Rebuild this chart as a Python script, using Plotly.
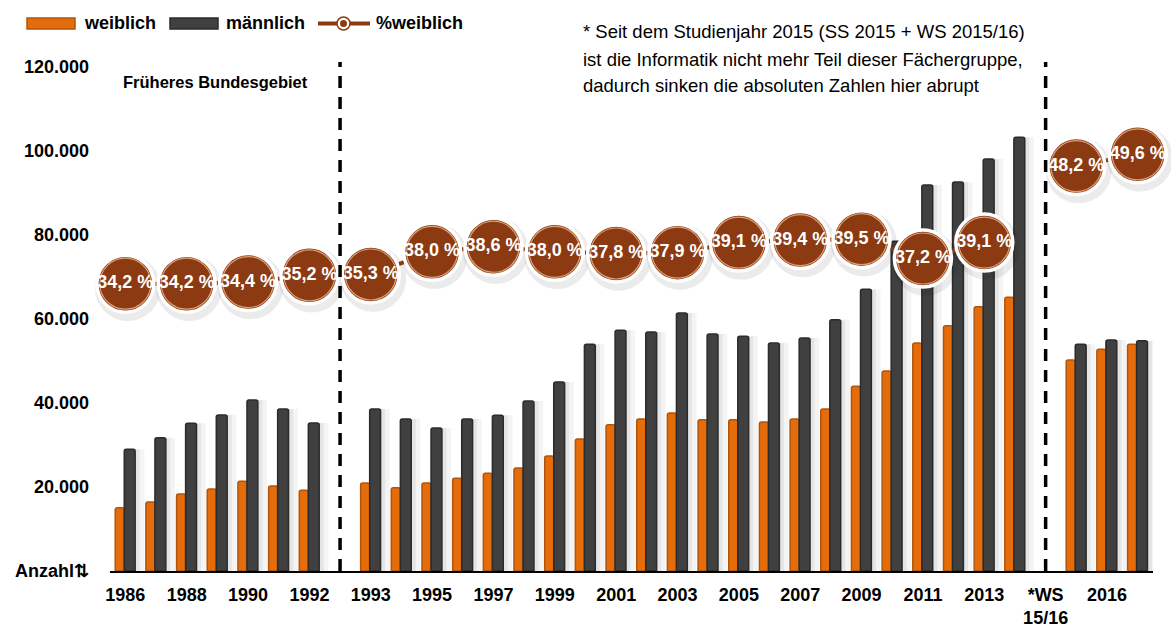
import plotly.graph_objects as go

# ---------------- data ----------------
categories = ["1986", "1987", "1988", "1989", "1990", "1991", "1992", "",
              "1993", "1994", "1995", "1996", "1997", "1998", "1999", "2000",
              "2001", "2002", "2003", "2004", "2005", "2006", "2007", "2008",
              "2009", "2010", "2011", "2012", "2013", "2014", "",
              "WS 15/16", "2016", "2017"]

weiblich = [15070, 16430, 18330, 19520, 21350, 20240, 19210, None,
            20950, 19800, 20950, 22100, 23300, 24500, 27400, 31400,
            34800, 36200, 37600, 36000, 36000, 35500, 36200, 38600,
            44000, 47600, 54300, 58400, 62900, 65200, None,
            50240, 52780, 53970]

maennlich = [28970, 31750, 35160, 37140, 40700, 38570, 35240, None,
             38570, 36200, 34050, 36200, 37100, 40500, 45000, 54000,
             57300, 56900, 61400, 56400, 55900, 54300, 55500, 59800,
             67100, 78500, 91900, 92600, 98100, 103300, None,
             53970, 55000, 54840]

pct_weiblich = [34.2, None, 34.2, None, 34.4, None, 35.2, None,
                35.3, None, 38.0, None, 38.6, None, 38.0, None,
                37.8, None, 37.9, None, 39.1, None, 39.4, None,
                39.5, None, 37.2, None, 39.1, None, None,
                48.2, None, 49.6]

tick_positions = [0, 2, 4, 6, 8, 10, 12, 14, 16, 18, 20, 22, 24, 26, 28, 30, 32]
tick_labels = ["1986", "1988", "1990", "1992", "1993", "1995", "1997", "1999",
               "2001", "2003", "2005", "2007", "2009", "2011", "2013",
               "*WS<br>15/16", "2016"]

y_tickvals = [0, 20000, 40000, 60000, 80000, 100000, 120000]
y_ticktext = ["Anzahl⇅", "20.000", "40.000", "60.000", "80.000", "100.000", "120.000"]

divider_positions = [7, 30]

legend_names = ["weiblich", "männlich", "%weiblich"]
note_lines = ["* Seit dem Studienjahr 2015 (SS 2015 + WS 2015/16)",
              "ist die Informatik nicht mehr Teil dieser Fächergruppe,",
              "dadurch sinken die absoluten Zahlen hier abrupt"]
region_text = "Früheres Bundesgebiet"

# ---------------- style ----------------
FONT = "'Liberation Sans', Arial, sans-serif"
ORANGE = "#E46C0A"
ORANGE_EDGE = "#B0550C"
DARK = "#404040"
DARK_EDGE = "#2B2B2B"
BROWN = "#8B3A12"

W, H = 1171, 630
ML, MR, MT, MB = 110, 18, 67, 59
PW, PH = W - ML - MR, H - MT - MB


def px_x(px):
    return (px - ML) / PW


def px_y(py):
    return (H - MB - py) / PH


xs = list(range(len(categories)))

fig = go.Figure()

# soft shadows right of dark bars
fig.add_trace(go.Bar(x=xs, y=maennlich, offset=0.32, width=0.30,
                     marker=dict(color="rgba(0,0,0,0.045)", line=dict(width=0)),
                     hoverinfo="skip", showlegend=False))
fig.add_trace(go.Bar(x=xs, y=maennlich, offset=0.32, width=0.15,
                     marker=dict(color="rgba(0,0,0,0.06)", line=dict(width=0)),
                     hoverinfo="skip", showlegend=False))

fig.add_trace(go.Bar(x=xs, y=weiblich, name=legend_names[0], offset=-0.33, width=0.295,
                     marker=dict(color=ORANGE, line=dict(color=ORANGE_EDGE, width=1.5),
                                 cornerradius=2),
                     showlegend=False))
fig.add_trace(go.Bar(x=xs, y=maennlich, name=legend_names[1], offset=-0.035, width=0.355,
                     marker=dict(color=DARK, line=dict(color=DARK_EDGE, width=1.5),
                                 cornerradius=2),
                     showlegend=False))

# percentage line with big circles
px_list, py_list = [], []
prev = None
for i, v in enumerate(pct_weiblich):
    if v is None:
        continue
    if prev is not None and i - prev > 2:
        px_list.append(None)
        py_list.append(None)
    px_list.append(i)
    py_list.append(v)
    prev = i

pts_x = [x for x in px_list if x is not None]
pts_y = [y for y in py_list if y is not None]
labels = [("%.1f %%" % v).replace(".", ",") for v in pts_y]

fig.add_trace(go.Scatter(x=[x + 0.08 for x in pts_x], y=[y - 0.5 for y in pts_y],
                         yaxis="y2", mode="markers", cliponaxis=False,
                         marker=dict(size=66, color="rgba(0,0,0,0.08)", line=dict(width=0)),
                         hoverinfo="skip", showlegend=False))
fig.add_trace(go.Scatter(x=px_list, y=py_list, yaxis="y2", mode="lines+markers",
                         name=legend_names[2], cliponaxis=False,
                         line=dict(color=BROWN, width=4),
                         marker=dict(size=57, color=BROWN, line=dict(color="white", width=3.5)),
                         showlegend=False))
fig.add_trace(go.Scatter(x=pts_x, y=pts_y, yaxis="y2", mode="markers", cliponaxis=False,
                         marker=dict(size=51, color="rgba(0,0,0,0)",
                                     line=dict(color="rgba(232,170,130,0.9)", width=1.2)),
                         hoverinfo="skip", showlegend=False))
fig.add_trace(go.Scatter(x=pts_x, y=pts_y, yaxis="y2", mode="text", cliponaxis=False,
                         text=["<b>%s</b>" % t for t in labels],
                         textposition="middle center",
                         textfont=dict(family=FONT, size=18, color="white"),
                         hoverinfo="skip", showlegend=False))

shapes = []
for d in divider_positions:
    shapes.append(dict(type="line", xref="x", yref="paper", x0=d, x1=d, y0=0, y1=1.01,
                       line=dict(color="black", width=3.5, dash="12px,9px"), layer="above"))

# custom legend
shapes.append(dict(type="rect", xref="paper", yref="paper",
                   x0=px_x(27), x1=px_x(75), y0=px_y(29), y1=px_y(18),
                   fillcolor=ORANGE, line=dict(color=ORANGE_EDGE, width=1.5)))
shapes.append(dict(type="rect", xref="paper", yref="paper",
                   x0=px_x(170), x1=px_x(218), y0=px_y(29), y1=px_y(18),
                   fillcolor=DARK, line=dict(color=DARK_EDGE, width=1.5)))
shapes.append(dict(type="line", xref="paper", yref="paper",
                   x0=px_x(318), x1=px_x(370), y0=px_y(23.5), y1=px_y(23.5),
                   line=dict(color=BROWN, width=4)))
shapes.append(dict(type="circle", xref="paper", yref="paper",
                   x0=px_x(337), x1=px_x(350), y0=px_y(30), y1=px_y(17),
                   fillcolor="white", line=dict(color=BROWN, width=1.5)))
shapes.append(dict(type="circle", xref="paper", yref="paper",
                   x0=px_x(340), x1=px_x(347), y0=px_y(27), y1=px_y(20),
                   fillcolor=BROWN, line=dict(color=BROWN, width=0)))

annotations = []
for txt, xpx in zip(legend_names, [82, 224, 374]):
    annotations.append(dict(text="<b>%s</b>" % txt, xref="paper", yref="paper",
                            x=px_x(xpx), y=px_y(23), xanchor="left", yanchor="middle",
                            showarrow=False, font=dict(family=FONT, size=18, color="black")))
annotations.append(dict(text="<b>%s</b>" % region_text, xref="paper", yref="paper",
                        x=px_x(121), y=px_y(82), xanchor="left", yanchor="middle",
                        showarrow=False, font=dict(family=FONT, size=16.5, color="black")))
for line, ypx in zip(note_lines, [31, 59, 86]):
    annotations.append(dict(text=line, xref="paper", yref="paper",
                            x=px_x(581), y=px_y(ypx), xanchor="left", yanchor="middle",
                            align="left", showarrow=False,
                            font=dict(family=FONT, size=18.5, color="black")))

fig.update_layout(
    width=W, height=H,
    margin=dict(l=ML, r=MR, t=MT, b=MB, pad=0, autoexpand=False),
    template="none",
    paper_bgcolor="white", plot_bgcolor="white",
    barmode="overlay",
    showlegend=False,
    font=dict(family=FONT, color="black"),
    xaxis=dict(range=[-0.5, 33.5], tickmode="array", tickvals=tick_positions,
               ticktext=["<b>%s</b>" % t for t in tick_labels],
               tickfont=dict(family=FONT, size=18, color="black"),
               showgrid=False, zeroline=False, showline=True, linecolor="black",
               linewidth=2, ticks="", ticklabelstandoff=6, automargin=False),
    yaxis=dict(range=[0, 120000], tickmode="array", tickvals=y_tickvals,
               ticktext=["<b>%s</b>" % t for t in y_ticktext],
               tickfont=dict(family=FONT, size=18, color="black"),
               showgrid=False, zeroline=False, showline=False, ticks="",
               ticklabelstandoff=20, automargin=False),
    yaxis2=dict(range=[0, 60], overlaying="y", visible=False),
    shapes=shapes,
    annotations=annotations,
)

fig.write_html("out.html",
               config={"displayModeBar": False},
               post_script="document.body.style.margin='0px';"
                           "document.body.style.overflow='hidden';")
